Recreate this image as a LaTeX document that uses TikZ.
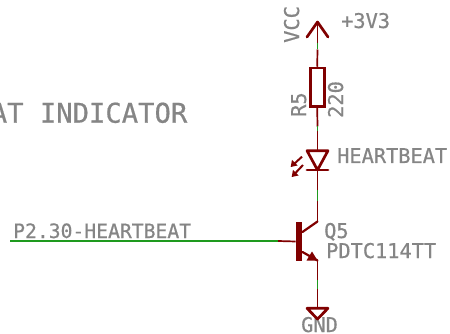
\documentclass[tikz,border=0pt]{standalone}
\usepackage{fontspec}
\setmonofont[FakeBold=0.6]{DejaVu Sans Mono}
\definecolor{wirered}{HTML}{800000}
\definecolor{netgreen}{HTML}{1E9A1E}
\definecolor{labelgray}{HTML}{858585}
\tikzset{
  lbl/.style={font=\ttfamily\fontsize{20.3}{21}\selectfont, text=labelgray, inner sep=0pt, anchor=base west},
  bigl/.style={font=\ttfamily\fontsize{27.2}{28}\selectfont, text=labelgray, inner sep=0pt, anchor=base east},
  sym/.style={draw=wirered, line width=2.7pt, line cap=round, line join=round},
  pin/.style={draw=wirered, line width=1.7pt},
  net/.style={draw=netgreen, line width=1.9pt},
}
\begin{document}
\begin{tikzpicture}[x=1pt,y=-1pt]
\useasboundingbox[clip] (0,0) rectangle (450,334);
\fill[white] (0,0) rectangle (450,334);
% texts
\node[bigl] (title) at (187.5,122.7) {AT INDICATOR};
\node[lbl,font=\ttfamily\fontsize{19.7}{20}\selectfont] (netlbl) at (13,238) {P2.30-HEARTBEAT};
\node[lbl,rotate=90] (vcc) at (299,43) {VCC};
\node[lbl] (v33) at (341,28) {+3V3};
\node[lbl,rotate=90] (r5lbl) at (306,117) {R5};
\node[lbl,rotate=90] (r5val) at (343,118) {220};
\node[lbl] (ledlbl) at (337,163) {HEARTBEAT};
\node[lbl] (q5) at (324,238) {Q5};
\node[lbl] (q5val) at (326,258) {PDTC114TT};
\node[lbl] (gnd) at (301,332) {GND};
% points
\coordinate (top) at (317.5,22);
\coordinate (a1) at (317.5,43);
\coordinate (a2) at (317.5,49.5);
\coordinate (b1) at (317.5,126.5);
\coordinate (b2) at (317.5,131);
\coordinate (ledtop) at (317.5,150.7);
\coordinate (ledtip) at (317.5,170);
\coordinate (c1) at (317.5,190);
\coordinate (c2) at (317.5,201);
\coordinate (coll) at (317.5,221.5);
\coordinate (em) at (317.5,260.5);
\coordinate (d1) at (317.5,280);
\coordinate (d2) at (317.5,289);
\coordinate (gndtop) at (317.5,308.3);
\coordinate (gndtip) at (317.5,319);
\coordinate (in) at (10,241);
\coordinate (in2) at (278,241);
% resistor and transistor bar
\node[rectangle, draw=wirered, line width=2.6pt, minimum width=14pt, minimum height=38.5pt, inner sep=0pt] (r5) at (317.2,87.3) {};
\node[rectangle, fill=wirered, minimum width=6.5pt, minimum height=39pt, inner sep=0pt] (bar) at (299,241.5) {};
% wires
\draw[pin] (top) -- (a1);
\draw[pin] (a2) -- (r5.north);
\draw[pin] (r5.south) -- (b1);
\draw[pin] (b2) -- (ledtop);
\draw[pin] (ledtip) -- (c1);
\draw[pin] (c2) -- (coll);
\draw[pin] (em) -- (d1);
\draw[pin] (d2) -- (gndtop);
\draw[pin] (in2) -- (bar.west);
\draw[net] (a1) -- (a2);
\draw[net] (b1) -- (b2);
\draw[net] (c1) -- (c2);
\draw[net] (d1) -- (d2);
\draw[net] (in) -- (in2);
% VCC arrow
\draw[sym] (307,37) -- (top) -- (328,37);
% LED
\draw[sym] (ledtop) -- (307,150.7) -- (ledtip) -- (328,150.7) -- (ledtop);
\draw[sym] (307,170) -- (ledtip) -- (328,170);
\draw[wirered, line width=2pt] (302,156.7) -- (294,164);
\fill[wirered] (290.7,167) -- (292,159.8) -- (297.5,165.5) -- cycle;
\draw[wirered, line width=2pt] (303,165) -- (295,173.5);
\fill[wirered] (291.7,177) -- (293,169.8) -- (298.5,175.5) -- cycle;
% transistor
\draw[sym, line width=2.2pt] (bar.east |- 0,232) -- (coll);
\draw[sym, line width=2.2pt] (bar.east |- 0,252) -- (em);
\fill[wirered] (em) -- (312,251.5) -- (306.5,260.5) -- cycle;
% GND
\draw[sym] (307,308.3) -- (328,308.3) -- (gndtip) -- cycle;
\end{tikzpicture}
\end{document}
